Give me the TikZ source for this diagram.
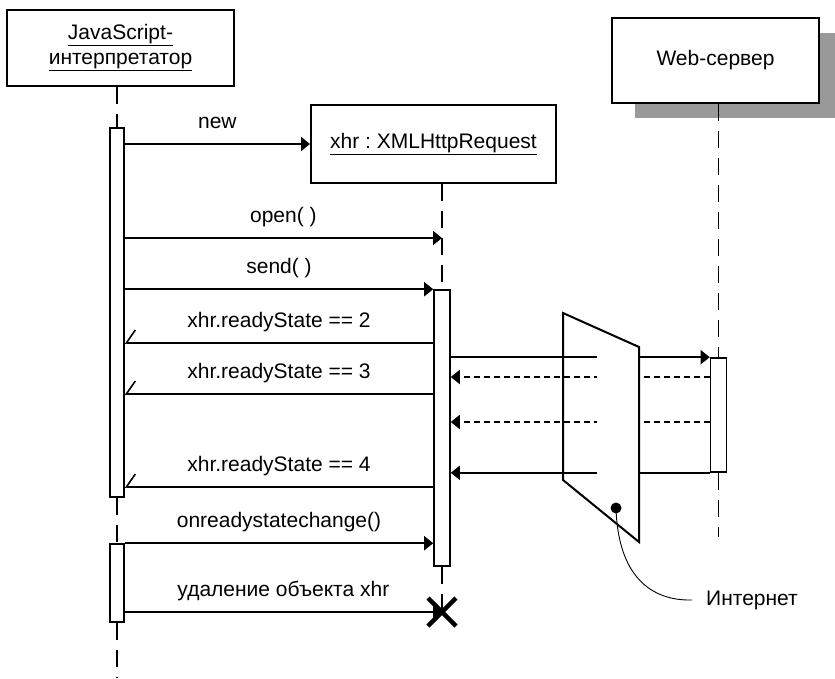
\documentclass[tikz,border=0pt]{standalone}
\usepackage{fontspec}
\setmainfont{Liberation Sans}
\usetikzlibrary{arrows.meta}
\definecolor{shadowgray}{RGB}{153,153,153}

\tikzset{
  lane/.style={draw, line width=2pt, fill=white, inner sep=0pt,
    font=\fontsize{21}{25}\selectfont, align=center},
  actbar/.style={draw, line width=1.6pt, fill=white, minimum width=14pt, inner sep=0pt},
  lifeline/.style={line width=1.8pt, dash pattern=on 17pt off 10pt},
  msg/.style={line width=1.9pt, -{Triangle[length=9pt,width=14pt]}},
  answer/.style={line width=1.9pt, -{Straight Barb[harpoon, swap, length=9pt, width=26pt, line width=1.6pt]}},
  netback/.style={msg, dash pattern=on 6pt off 4pt},
  lbl/.style={font=\fontsize{21}{25}\selectfont, anchor=base, inner sep=0pt, yshift=16pt},
}

\begin{document}
\begin{tikzpicture}[x=1pt, y=-1pt]
  \useasboundingbox (0,0) rectangle (835,678);

  % participants
  \node[lane, minimum width=227pt, minimum height=76pt] (js) at (120.5,48)
    {\underline{JavaScript-}\\\underline{интерпретатор}};
  \node[lane, minimum width=245pt, minimum height=78pt] (xhr) at (433.5,144)
    {\underline{xhr\ :\ XMLHttpRequest}};
  \fill[shadowgray] (635,33) rectangle (835,118);
  \node[lane, minimum width=207pt, minimum height=85pt] (web) at (715.5,60.5) {Web-сервер};

  % end points of the lifelines
  \coordinate (jsEnd) at (117,678);
  \coordinate (xend) at (442,612);
  \coordinate (webEnd) at (718.5,537);

  % activation bar frames, placed first so the lifelines can refer to them
  \path (117,312.5) node[actbar, minimum height=369pt, draw=none, fill=none] (jsA1) {}
        (117,583) node[actbar, minimum height=78pt, draw=none, fill=none] (jsA2) {}
        (442,428) node[actbar, minimum width=16pt, minimum height=276pt, draw=none, fill=none] (xhrA) {}
        (718.5,415) node[actbar, minimum width=16pt, minimum height=114pt, draw=none, fill=none] (webA) {};

  % lifelines
  \draw[lifeline] (jsA1.north |- js.south) -- (jsA1.north);
  \draw[lifeline] (jsA1.south) -- (jsA2.north);
  \draw[lifeline] (jsA2.south) -- (jsEnd);
  \draw[lifeline] (xhrA.north |- xhr.south) -- (xhrA.north);
  \draw[lifeline] (xhrA.south) -- (xend);
  \draw[lifeline] (webA.north |- web.south) -- (webA.north);
  \draw[lifeline] (webA.south) -- (webEnd);

  % activation bars
  \node[actbar, minimum height=369pt] at (jsA1) {};
  \node[actbar, minimum height=78pt] at (jsA2) {};
  \node[actbar, minimum width=16pt, minimum height=276pt] at (xhrA) {};
  \node[actbar, minimum width=16pt, minimum height=114pt] at (webA) {};

  % messages from the interpreter
  \draw[msg] (jsA1.east |- xhr.west) -- (xhr.west) node[midway, lbl] {new};
  \draw[msg] (jsA1.east |- 0,238) -- (xhrA.north |- 0,238) node[midway, lbl] {open( )};
  \draw[msg] (jsA1.east |- xhrA.north) -- (xhrA.north west) node[midway, lbl] {send( )};
  \draw[answer] (xhrA.west |- 0,343) -- (jsA1.east |- 0,343) node[midway, lbl] {xhr.readyState == 2};
  \draw[answer] (xhrA.west |- 0,394) -- (jsA1.east |- 0,394) node[midway, lbl] {xhr.readyState == 3};
  \draw[answer] (xhrA.west |- 0,487) -- (jsA1.east |- 0,487) node[midway, lbl] {xhr.readyState == 4};
  \draw[msg] (jsA2.north east) -- (xhrA.west |- jsA2.north east) node[midway, lbl] {onreadystatechange()};
  \draw[msg] (jsA2.east |- xend) -- (xend) node[midway, lbl] {удаление объекта xhr};

  % exchange with the server
  \draw[msg] (xhrA.east |- webA.north) -- (webA.north west);
  \draw[netback] (webA.west |- 0,377) -- (xhrA.east |- 0,377);
  \draw[netback] (webA.west |- 0,422) -- (xhrA.east |- 0,422);
  \draw[msg] (webA.south west) -- (xhrA.east |- webA.south);

  % the Internet cloud
  \fill[white] (597,350) rectangle (638,478);
  \draw[line width=2pt, line join=miter] (563,313) -- (639,347) -- (639,542) -- (563,480) -- cycle;
  \coordinate (dot) at (616,508);
  \fill (dot) circle (5.5pt);
  \node[font=\fontsize{21}{25}\selectfont, inner sep=0pt, inner xsep=14pt, anchor=west] (inet) at (692,600) {Интернет};
  \draw[line width=0.9pt] (dot) .. controls (618,575) and (650,601) .. (inet.west);

  % destruction mark
  \draw[line width=4.5pt] ([shift={(-14,-14)}]xend) -- ([shift={(14,14)}]xend)
                          ([shift={(-14,14)}]xend) -- ([shift={(14,-14)}]xend);
\end{tikzpicture}
\end{document}
